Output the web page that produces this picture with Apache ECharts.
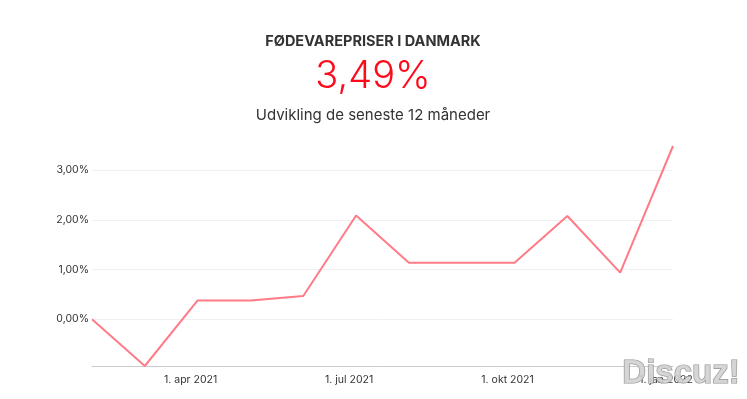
<!DOCTYPE html>
<html>
<head>
<meta charset="utf-8">
<script src="https://cdn.jsdelivr.net/npm/echarts@6/dist/echarts.min.js"></script>
<style>
    html, body {margin: 0; padding: 0; background: #fff;}
    #chart {width: 747px; height: 399px;}
</style>
</head>
<body>
<div id="chart"></div>
<script>
// måneder (kategori-akse)
var months = ['1. feb 2021', '1. mar 2021', '1. apr 2021', '1. maj 2021', '1. jun 2021', '1. jul 2021',
    '1. aug 2021', '1. sep 2021', '1. okt 2021', '1. nov 2021', '1. dec 2021', '1. jan 2022'];
// udvikling i procent
var priceChange = [0.00, -0.94, 0.38, 0.38, 0.47, 2.09, 1.14, 1.14, 1.14, 2.08, 0.94, 3.49];
var yMin = -0.94;
var yMax = 3.49;

var headline = 'FØDEVAREPRISER I DANMARK';
var bigNumber = '3,49%';
var subline = 'Udvikling de seneste 12 måneder';

var font = 'Inter, "Noto Sans", sans-serif';

function pct(v) {
    return v.toFixed(2).replace('.', ',') + '%';
}

var myChart = echarts.init(document.getElementById('chart'), null, {renderer: 'canvas'});

var option = {
    animation: false,
    backgroundColor: '#ffffff',
    graphic: [
        {
            type: 'text', x: 373, y: 42,
            style: {text: headline, fill: '#333333', font: 'bold 14.5px ' + font, textAlign: 'center', textVerticalAlign: 'middle'}
        },
        {
            type: 'text', x: 373, y: 77,
            style: {text: bigNumber, fill: '#ff0a1a', font: '300 38px ' + font, textAlign: 'center', textVerticalAlign: 'middle'}
        },
        {
            type: 'text', x: 373, y: 115,
            style: {text: subline, fill: '#333333', font: '15px ' + font, textAlign: 'center', textVerticalAlign: 'middle'}
        },
        {
            // vandmærke
            type: 'text', x: 681, y: 374, z: 100,
            style: {
                text: 'Discuz!', fill: '#d2d2d2', stroke: '#8a8a8a', lineWidth: 1.2, opacity: 0.9,
                font: 'bold 33px "Liberation Sans", sans-serif', textAlign: 'center', textVerticalAlign: 'middle'
            }
        }
    ],
    grid: {left: 92, right: 74, top: 146, bottom: 33},
    xAxis: {
        type: 'category',
        data: months,
        boundaryGap: false,
        axisLine: {onZero: false, lineStyle: {color: '#cccccc', width: 1}},
        axisTick: {show: false},
        axisLabel: {
            color: '#333333',
            fontSize: 10.5,
            fontFamily: font,
            margin: 8,
            padding: [0, 14, 0, 0],
            interval: function (idx) {
                return idx % 3 === 2;
            }
        }
    },
    yAxis: {
        type: 'value',
        min: yMin,
        max: yMax,
        splitNumber: 4,
        axisLine: {show: false},
        axisTick: {show: false},
        splitLine: {show: true, showMinLine: false, showMaxLine: false, lineStyle: {color: '#f0f0f0', width: 1}},
        axisLabel: {
            color: '#333333',
            fontSize: 10.5,
            fontFamily: font,
            margin: 3,
            showMinLabel: false,
            showMaxLabel: false,
            formatter: function (v) {
                return pct(v);
            }
        }
    },
    series: [
        {
            type: 'line',
            data: priceChange,
            symbol: 'none',
            lineStyle: {color: '#ff7b87', width: 2}
        }
    ]
};

myChart.setOption(option);
</script>
</body>
</html>
